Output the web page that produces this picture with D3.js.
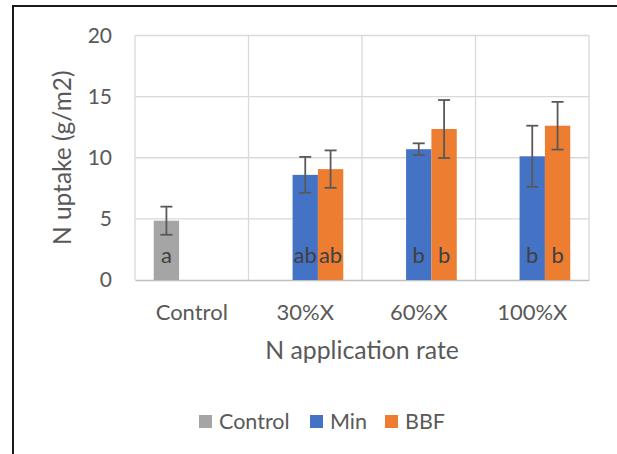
<!DOCTYPE html>
<html><head><meta charset="utf-8">
<script src="https://cdn.jsdelivr.net/npm/d3@7"></script>
<style>
html,body{margin:0;padding:0;background:#fff;}
svg{display:block;font-family:Lato,"Liberation Sans",sans-serif;}
</style></head>
<body>
<svg id="chart" width="617" height="454"></svg>
<script>
const categories = ["Control", "30%X", "60%X", "100%X"];
const seriesNames = ["Control", "Min", "BBF"];
const controlValues = [4.85, null, null, null];
const minValues = [null, 8.6, 10.7, 10.12];
const bbfValues = [null, 9.07, 12.35, 12.62];
const controlErrors = [1.15, null, null, null];
const minErrors = [null, 1.47, 0.48, 2.5];
const bbfErrors = [null, 1.53, 2.37, 1.95];
const controlLetters = ["a", null, null, null];
const minLetters = [null, "ab", "b", "b"];
const bbfLetters = [null, "ab", "b", "b"];
const yTicks = [0, 5, 10, 15, 20];
const seriesColors = ["#A5A5A5", "#4472C4", "#ED7D31"];
const xTitle = "N application rate";
const yTitle = "N uptake (g/m2)";

const seriesValues = [controlValues, minValues, bbfValues];
const seriesErrors = [controlErrors, minErrors, bbfErrors];
const seriesLetters = [controlLetters, minLetters, bbfLetters];

const svg = d3.select("#chart");
const textColor = "#595959";

// outer frame (left + top edges visible)
svg.append("line").attr("x1",13).attr("x2",13).attr("y1",6).attr("y2",454).attr("stroke","#1a1a1a").attr("stroke-width",2);
svg.append("line").attr("x1",12).attr("x2",617).attr("y1",6).attr("y2",6).attr("stroke","#1a1a1a").attr("stroke-width",2);

const plot = {left:135, right:589, top:35.5, bottom:280};

const x = d3.scaleBand().domain(categories).range([plot.left, plot.right]).paddingInner(0).paddingOuter(0);
const x1 = d3.scaleBand().domain(seriesNames).range([0, x.bandwidth()]).paddingInner(0).paddingOuter(0.74);
const y = d3.scaleLinear().domain([0, 20]).range([plot.bottom, plot.top]);

// horizontal gridlines
svg.append("g").selectAll("line").data(yTicks.filter(t=>t>0)).join("line")
  .attr("x1", plot.left).attr("x2", plot.right)
  .attr("y1", d=>y(d)).attr("y2", d=>y(d))
  .attr("stroke", "#D9D9D9").attr("stroke-width", 1.3);
// vertical gridlines at category boundaries
const bounds = categories.map(c=>x(c)).concat([x(categories[categories.length-1]) + x.bandwidth()]);
svg.append("g").selectAll("line").data(bounds).join("line")
  .attr("x1", d=>d).attr("x2", d=>d)
  .attr("y1", plot.top).attr("y2", plot.bottom)
  .attr("stroke", "#D9D9D9").attr("stroke-width", 1.3);

// y axis labels
const yAxis = d3.axisLeft(y).tickValues(yTicks).tickSize(0).tickPadding(23);
const gy = svg.append("g").attr("transform", `translate(${plot.left},0)`).call(yAxis);
gy.select(".domain").remove();
gy.selectAll("text").attr("fill", textColor).attr("font-size", 21).attr("font-family", "Lato, sans-serif");

// x axis
const xAxis = d3.axisBottom(x).tickSize(0).tickPadding(24);
const gx = svg.append("g").attr("transform", `translate(0,${plot.bottom})`).call(xAxis);
gx.select(".domain").attr("stroke", "#BFBFBF").attr("stroke-width", 1.5);
gx.selectAll("text").attr("fill", textColor).attr("font-size", 22).attr("font-family", "Lato, sans-serif");

// bars
seriesNames.forEach((s, si) => {
  const g = svg.append("g");
  const data = categories.map((c, ci) => ({c, v: seriesValues[si][ci], e: seriesErrors[si][ci], l: seriesLetters[si][ci]})).filter(d => d.v != null);
  g.selectAll("rect").data(data).join("rect")
    .attr("x", d => x(d.c) + x1(s))
    .attr("width", x1.bandwidth())
    .attr("y", d => y(d.v))
    .attr("height", d => y(0) - y(d.v))
    .attr("fill", seriesColors[si]);
  // labels
  g.selectAll("text").data(data).join("text")
    .attr("x", d => x(d.c) + x1(s) + x1.bandwidth()/2)
    .attr("y", 263)
    .attr("text-anchor", "middle")
    .attr("font-size", 22)
    .attr("fill", "#404040")
    .text(d => d.l);
  // error bars
  const eb = g.selectAll("g.eb").data(data).join("g").attr("class","eb");
  const cx = d => x(d.c) + x1(s) + x1.bandwidth()/2;
  eb.append("line").attr("x1", cx).attr("x2", cx).attr("y1", d=>y(d.v+d.e)).attr("y2", d=>y(d.v-d.e)).attr("stroke","#595959").attr("stroke-width",1.8);
  eb.append("line").attr("x1", d=>cx(d)-6).attr("x2", d=>cx(d)+6).attr("y1", d=>y(d.v+d.e)).attr("y2", d=>y(d.v+d.e)).attr("stroke","#595959").attr("stroke-width",1.8);
  eb.append("line").attr("x1", d=>cx(d)-6).attr("x2", d=>cx(d)+6).attr("y1", d=>y(d.v-d.e)).attr("y2", d=>y(d.v-d.e)).attr("stroke","#595959").attr("stroke-width",1.8);
});

// axis titles
svg.append("text").attr("x", (plot.left+plot.right)/2 - 0).attr("y", 359)
  .attr("text-anchor","middle").attr("font-size",24.8).attr("fill",textColor).text(xTitle);
svg.append("text").attr("transform", `translate(71,${(plot.top+plot.bottom)/2}) rotate(-90)`)
  .attr("text-anchor","middle").attr("font-size",24.5).attr("fill",textColor).text(yTitle);

// legend
const legendX = [199, 310, 385];
const lg = svg.append("g");
seriesNames.forEach((s, i) => {
  lg.append("rect").attr("x", legendX[i]).attr("y", 415).attr("width", 13).attr("height", 13).attr("fill", seriesColors[i]);
  lg.append("text").attr("x", legendX[i] + 20).attr("y", 429).attr("font-size", 21.5).attr("fill", textColor).text(s);
});
</script>
</body></html>
